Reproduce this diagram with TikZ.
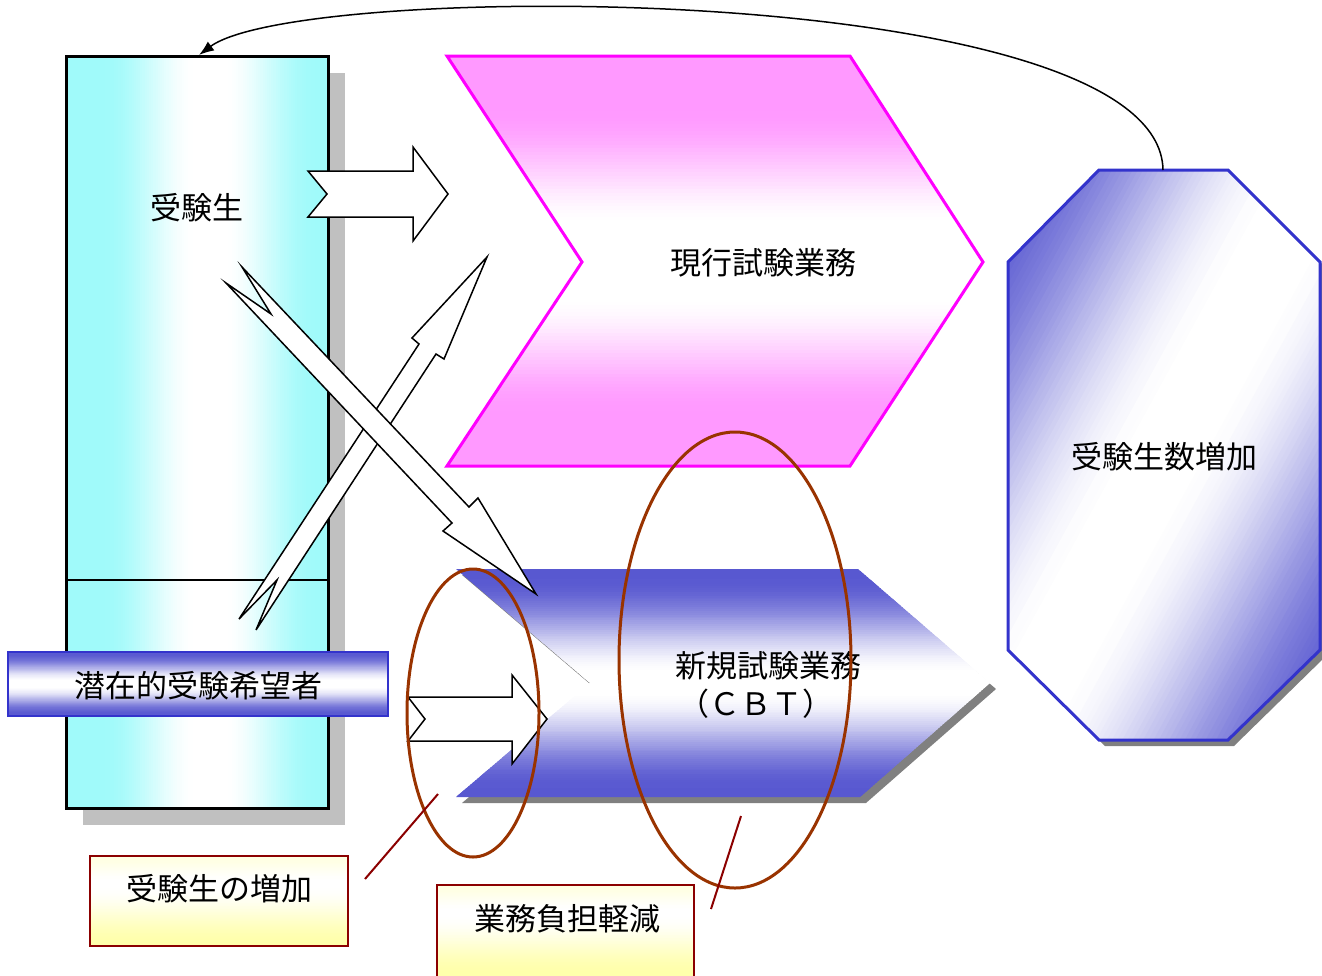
\documentclass[tikz,border=0pt]{standalone}
\usepackage{fontspec}
\setmainfont{Noto Sans CJK JP}
\usetikzlibrary{arrows.meta}
\definecolor{cyanA}{RGB}{160,250,250}
\definecolor{pinkA}{RGB}{255,153,255}
\definecolor{magA}{RGB}{255,0,255}
\definecolor{blueA}{RGB}{88,88,208}
\definecolor{blueB}{RGB}{51,51,204}
\definecolor{ellC}{RGB}{153,51,0}
\definecolor{redD}{RGB}{139,0,0}
\definecolor{yelA}{RGB}{255,255,170}
\definecolor{shadowL}{RGB}{192,192,192}
\definecolor{shadowD}{RGB}{128,128,128}
% smooth bump: colour percent \p from position \f; centre, dead zone, full-colour distance
\newcommand\bump[3]{%
  \pgfmathsetmacro\ttA{min(1,max(0,(abs(\f-#1)-#2)/(#3-#2)))}%
  \pgfmathtruncatemacro\p{100*\ttA*\ttA*(3-2*\ttA)}}
\newcommand\yelp{%
  \pgfmathsetmacro\ttA{min(1,max(0,(0.3-\f)/0.3))}%
  \pgfmathsetmacro\ttB{min(1,max(0,(\f-0.32)/0.68))}%
  \pgfmathtruncatemacro\p{max(35*\ttA*\ttA*(3-2*\ttA),100*\ttB*\ttB*(3-2*\ttB))}}
% vertical strips: x0,x1,y0,y1,colour,code setting \p from \f (0 at top)
\newcommand\vstrips[6]{%
  \foreach \i in {0,...,119}{%
    \pgfmathsetmacro\f{(\i+0.5)/120}%
    #6%
    \pgfmathsetmacro\ya{#3+(#4-#3)*(\i/120)}%
    \pgfmathsetmacro\yb{#3+(#4-#3)*((\i+1.7)/120)}%
    \fill[#5!\p!white] (#1,\ya) rectangle (#2,\yb);
  }}
% horizontal strips: x0,x1,y0,y1,colour,code setting \p from \f (0 at left)
\newcommand\hstrips[6]{%
  \foreach \i in {0,...,119}{%
    \pgfmathsetmacro\f{(\i+0.5)/120}%
    #6%
    \pgfmathsetmacro\xa{#1+(#2-#1)*(\i/120)}%
    \pgfmathsetmacro\xb{#1+(#2-#1)*((\i+1.7)/120)}%
    \fill[#5!\p!white] (\xa,#3) rectangle (\xb,#4);
  }}
\begin{document}
\begin{tikzpicture}[x=1pt,y=-1pt,
  lbl/.style={font=\fontsize{31}{37}\selectfont, inner sep=0pt, text=black},
  blockarrow/.style={draw=black, line width=1.5pt, fill=white, line join=miter},
  ring/.style={draw=ellC, line width=3pt},
  callline/.style={draw=redD, line width=2pt},
  callbox/.style={draw=redD, line width=2pt}]
\useasboundingbox (0,0) rectangle (1322,975);

% left column
\fill[shadowL] (83,73) rectangle (345,825);
\hstrips{66}{328}{56}{808}{cyanA}{\bump{0.55}{0.05}{0.4}}
\draw[line width=1.5pt] (66,580) -- (328,580);
\draw[line width=3pt] (66,56) rectangle (328,808);
\node[lbl] (jukensei) at (197,208) {受験生};

% current exam chevron
\begin{scope}
  \clip (447,56) -- (850,56) -- (983,262) -- (850,466) -- (447,466) -- (582,262) -- cycle;
  \vstrips{440}{990}{56}{466}{pinkA}{\bump{0.5}{0.08}{0.37}}
\end{scope}
\draw[draw=magA, line width=3pt, line join=miter]
  (447,56) -- (850,56) -- (983,262) -- (850,466) -- (447,466) -- (582,262) -- cycle;
\node[lbl] (genko) at (763,263) {現行試験業務};

% new exam chevron (CBT)
\fill[shadowD] (462,575) -- (864,575) -- (996,689) -- (866,803) -- (462,803) -- (596,689) -- cycle;
\begin{scope}
  \clip (456,569) -- (858,569) -- (990,683) -- (860,797) -- (456,797) -- (590,683) -- cycle;
  \vstrips{450}{995}{569}{797}{blueA}{\bump{0.5}{0.03}{0.46}}
\end{scope}
\node[lbl] (shinki) at (768,666) {新規試験業務};
\node[lbl] (cbt) at (756,704) {（ＣＢＴ）};

% octagon
\fill[shadowD] (1105,176) -- (1234,176) -- (1326,268) -- (1326,656) -- (1234,746) -- (1105,746) -- (1014,656) -- (1014,268) -- cycle;
\begin{scope}
  \clip (1099,170) -- (1228,170) -- (1320,262) -- (1320,650) -- (1228,740) -- (1099,740) -- (1008,650) -- (1008,262) -- cycle;
  \begin{scope}[shift={(1008,170)}, x={(312pt,0pt)}, y={(0pt,-570pt)}]
    \foreach \i in {0,...,119}{%
      \pgfmathsetmacro\f{(\i+0.5)/120}%
      \bump{0.5}{0.04}{0.5}%
      \pgfmathsetmacro\ca{2*\i/120}%
      \pgfmathsetmacro\cb{2*(\i+1.7)/120}%
      \fill[blueA!\p!white] (\ca+2,-2) -- (\cb+2,-2) -- (\cb-2,2) -- (\ca-2,2) -- cycle;
    }
  \end{scope}
\end{scope}
\draw[draw=blueB, line width=3pt, line join=miter]
  (1099,170) -- (1228,170) -- (1320,262) -- (1320,650) -- (1228,740) -- (1099,740) -- (1008,650) -- (1008,262) -- cycle;
\node[lbl] (zoka) at (1164,457) {受験生数増加};

% block arrows
\draw[blockarrow] (308,171) -- (413,171) -- (413,147) -- (448,194) -- (413,241) -- (413,217) -- (308,217) -- (327,194) -- cycle;
\draw[blockarrow] (487,257) -- (444,359) -- (436,354) -- (256,630) -- (277,580) -- (239,619) -- (419,344) -- (412,338) -- cycle;
\draw[blockarrow] (242,267) -- (271,314) -- (226,283) -- (452,523) -- (443,531) -- (536,594) -- (478,498) -- (469,507) -- cycle;

% potential applicants banner
\vstrips{8}{388}{652}{716}{blueA}{\bump{0.5}{0.03}{0.48}}
\draw[draw=blueB, line width=1.5pt] (8,652) rectangle (388,716);
\node[lbl] (senzai) at (198,686) {潜在的受験希望者};

% lower block arrow
\draw[blockarrow] (408,697) -- (512,697) -- (512,675) -- (547,719) -- (512,764) -- (512,741) -- (408,741) -- (425,719) -- cycle;

% ellipses
\draw[ring] (473,713) ellipse [x radius=66, y radius=144];
\draw[ring] (735,660) ellipse [x radius=116, y radius=228];

% callouts
\coordinate (c1a) at (438,794);
\coordinate (c1b) at (365,879);
\coordinate (c2a) at (741,816);
\coordinate (c2b) at (711,909);
\draw[callline] (c1a) -- (c1b);
\draw[callline] (c2a) -- (c2b);
\vstrips{90}{348}{856}{946}{yelA}{\yelp}
\draw[callbox] (90,856) rectangle (348,946);
\node[lbl] (zokaBox) at (219,889) {受験生の増加};
\vstrips{437}{694}{885}{975}{yelA}{\yelp}
\draw[callbox] (437,995) -- (437,885) -- (694,885) -- (694,995);
\node[lbl] (futan) at (567,919) {業務負担軽減};

% feedback curve
\coordinate (octtop) at (1163,170);
\coordinate (coltop) at (199,55);
\draw[line width=1.5pt, -{Latex[length=15pt,width=11pt]}] (octtop) .. controls (1160,-20) and (300,-20) .. (coltop);
\end{tikzpicture}
\end{document}
